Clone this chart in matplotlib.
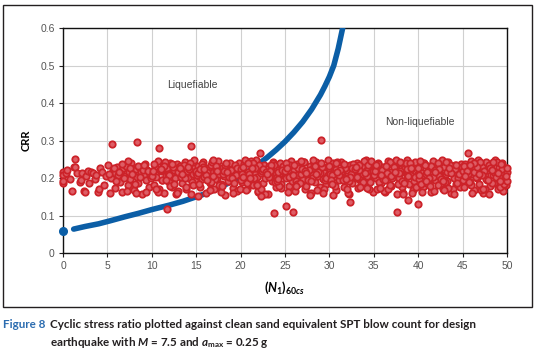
import matplotlib
matplotlib.use("Agg")
import matplotlib.pyplot as plt

cap_font = "Lato"

plt.rcParams["font.family"] = ["Liberation Sans", "DejaVu Sans"]
plt.rcParams["mathtext.fontset"] = "custom"
plt.rcParams["mathtext.rm"] = cap_font + ":bold"
plt.rcParams["mathtext.it"] = cap_font + ":italic:bold"
plt.rcParams["mathtext.bf"] = cap_font + ":bold"

# clean sand base curve
curve_n = [1.2, 2.5, 4.0, 5.3, 7.0, 8.5, 10.0, 12.0, 13.5, 15.0, 16.0, 17.0, 18.0,
           19.0, 20.0, 21.0, 22.0, 23.0, 24.0, 25.0, 26.0, 27.0, 28.0, 29.0, 29.5,
           30.0, 30.5, 31.0, 31.5]
curve_crr = [0.064, 0.071, 0.078, 0.086, 0.097, 0.106, 0.116, 0.128, 0.138, 0.150,
             0.158, 0.168, 0.179, 0.191, 0.205, 0.220, 0.237, 0.255, 0.275, 0.297,
             0.322, 0.350, 0.383, 0.422, 0.445, 0.470, 0.500, 0.545, 0.600]
start_n = [0]
start_crr = [0.06]

# red site points, one line of n per line of crr
red_n = [
    0, 0, 0, 0, 0.3, 0.5, 0.8, 1.0, 1.2, 1.3, 1.35, 1.6, 1.9, 2.0, 2.1, 2.4, 2.5, 2.6,
    2.8, 2.9, 3.1, 3.4, 3.6, 3.7, 3.9, 4.1, 4.2, 4.4, 4.6, 4.8,
    5.1, 5.3, 5.4, 5.6, 5.8, 5.9, 6.1, 6.2, 6.4, 6.5, 6.7, 6.8, 7.0, 7.1, 7.3, 7.4,
    7.6, 7.7, 7.9, 8.0, 8.2, 8.3, 8.5, 8.6, 8.8, 8.9, 9.1, 9.2, 9.4, 9.5, 9.7, 9.8,
    5.2, 5.7, 6.0, 6.3, 6.6, 6.9, 7.2, 7.5, 7.8, 8.1, 8.4, 8.7, 9.0, 9.3, 9.6, 9.9,
    5.55, 8.3, 7.3, 8.2, 9.1,
    10.1, 10.2, 10.4, 10.5, 10.7, 10.8, 11.0, 11.1, 11.3, 11.4, 11.6, 11.7, 11.9, 12.0,
    12.2, 12.3, 12.5, 12.6, 12.8, 12.9, 13.1, 13.2, 13.4, 13.5, 13.7, 13.8, 14.0, 14.1,
    14.3, 14.4, 14.6, 14.7, 14.9,
    10.0, 10.3, 10.6, 10.9, 11.2, 11.5, 11.8, 12.1, 12.4, 12.7, 13.0, 13.3, 13.6, 13.9,
    14.2, 14.5, 14.8,
    10.15, 10.75, 11.35, 11.95, 12.55, 13.15, 13.75, 14.35, 14.95, 10.45, 11.05, 11.65,
    12.25, 12.85, 13.45, 14.05, 14.65,
    10.8, 11.75, 14.4,
    15.1, 15.2, 15.4, 15.5, 15.7, 15.8, 16.0, 16.1, 16.3, 16.4, 16.6, 16.7, 16.9, 17.0,
    17.2, 17.3, 17.5, 17.6, 17.8, 17.9, 18.1, 18.2, 18.4, 18.5, 18.7, 18.8, 19.0, 19.1,
    19.3, 19.4, 19.6, 19.7, 19.9,
    15.0, 15.3, 15.6, 15.9, 16.2, 16.5, 16.8, 17.1, 17.4, 17.7, 18.0, 18.3, 18.6, 18.9,
    19.2, 19.5, 19.8,
    15.15, 15.75, 16.35, 16.95, 17.55, 18.15, 18.75, 19.35, 19.95, 15.45, 16.05, 16.65,
    17.25, 17.85, 18.45, 19.05, 19.65,
    15.25, 16.25, 17.35, 18.35, 19.25, 15.85, 16.85, 17.95,
    20.1, 20.2, 20.4, 20.5, 20.7, 20.8, 21.0, 21.1, 21.3, 21.4, 21.6, 21.7, 21.9, 22.0,
    22.2, 22.3, 22.5, 22.6, 22.8, 22.9, 23.1, 23.2, 23.4, 23.5, 23.7, 23.8, 24.0, 24.1,
    24.3, 24.4, 24.6, 24.7, 24.9,
    20.0, 20.3, 20.6, 20.9, 21.2, 21.5, 21.8, 22.1, 22.4, 22.7, 23.0, 23.3, 23.6, 23.9,
    24.2, 24.5, 24.8,
    20.15, 20.75, 21.35, 21.95, 22.55, 23.15, 23.75, 24.35, 24.95, 20.45, 21.05, 21.65,
    22.25, 22.85, 23.45, 24.05, 24.65,
    20.25, 21.25, 22.35, 23.35, 24.25, 20.85, 21.85, 22.95,
    25.1, 25.2, 25.4, 25.5, 25.7, 25.8, 26.0, 26.1, 26.3, 26.4, 26.6, 26.7, 26.9, 27.0,
    27.2, 27.3, 27.5, 27.6, 27.8, 27.9, 28.1, 28.2, 28.4, 28.5, 28.7, 28.8, 29.0, 29.1,
    29.3, 29.4, 29.6, 29.7, 29.9,
    25.0, 25.3, 25.6, 25.9, 26.2, 26.5, 26.8, 27.1, 27.4, 27.7, 28.0, 28.3, 28.6, 28.9,
    29.2, 29.5, 29.8,
    25.15, 25.75, 26.35, 26.95, 27.55, 28.15, 28.75, 29.35, 29.95, 25.45, 26.05, 26.65,
    27.25, 27.85, 28.45, 29.05, 29.65,
    25.25, 26.25, 27.35, 28.35, 29.25, 25.85, 26.85, 27.95,
    30.1, 30.2, 30.4, 30.5, 30.7, 30.8, 31.0, 31.1, 31.3, 31.4, 31.6, 31.7, 31.9, 32.0,
    32.2, 32.3, 32.5, 32.6, 32.8, 32.9, 33.1, 33.2, 33.4, 33.5, 33.7, 33.8, 34.0, 34.1,
    34.3, 34.4, 34.6, 34.7, 34.9,
    30.0, 30.3, 30.6, 30.9, 31.2, 31.5, 31.8, 32.1, 32.4, 32.7, 33.0, 33.3, 33.6, 33.9,
    34.2, 34.5, 34.8,
    30.15, 30.75, 31.35, 31.95, 32.55, 33.15, 33.75, 34.35, 34.95, 30.45, 31.05, 31.65,
    32.25, 32.85, 33.45, 34.05, 34.65,
    30.25, 31.25, 32.35, 33.35, 34.25, 30.85, 31.85, 32.95,
    35.1, 35.2, 35.4, 35.5, 35.7, 35.8, 36.0, 36.1, 36.3, 36.4, 36.6, 36.7, 36.9, 37.0,
    37.2, 37.3, 37.5, 37.6, 37.8, 37.9, 38.1, 38.2, 38.4, 38.5, 38.7, 38.8, 39.0, 39.1,
    39.3, 39.4, 39.6, 39.7, 39.9,
    35.0, 35.3, 35.6, 35.9, 36.2, 36.5, 36.8, 37.1, 37.4, 37.7, 38.0, 38.3, 38.6, 38.9,
    39.2, 39.5, 39.8,
    35.15, 35.75, 36.35, 36.95, 37.55, 38.15, 38.75, 39.35, 39.95, 35.45, 36.05, 36.65,
    37.25, 37.85, 38.45, 39.05, 39.65,
    35.25, 36.25, 37.35, 38.35, 39.25, 35.85, 36.85, 37.95,
    40.1, 40.2, 40.4, 40.5, 40.7, 40.8, 41.0, 41.1, 41.3, 41.4, 41.6, 41.7, 41.9, 42.0,
    42.2, 42.3, 42.5, 42.6, 42.8, 42.9, 43.1, 43.2, 43.4, 43.5, 43.7, 43.8, 44.0, 44.1,
    44.3, 44.4, 44.6, 44.7, 44.9,
    40.0, 40.3, 40.6, 40.9, 41.2, 41.5, 41.8, 42.1, 42.4, 42.7, 43.0, 43.3, 43.6, 43.9,
    44.2, 44.5, 44.8,
    40.15, 40.75, 41.35, 41.95, 42.55, 43.15, 43.75, 44.35, 44.95, 40.45, 41.05, 41.65,
    42.25, 42.85, 43.45, 44.05, 44.65,
    40.25, 41.25, 42.35, 43.35, 44.25, 40.85, 41.85, 42.95,
    45.1, 45.2, 45.4, 45.5, 45.7, 45.8, 46.0, 46.1, 46.3, 46.4, 46.6, 46.7, 46.9, 47.0,
    47.2, 47.3, 47.5, 47.6, 47.8, 47.9, 48.1, 48.2, 48.4, 48.5, 48.7, 48.8, 49.0, 49.1,
    49.3, 49.4, 49.6, 49.7, 49.9,
    45.0, 45.3, 45.6, 45.9, 46.2, 46.5, 46.8, 47.1, 47.4, 47.7, 48.0, 48.3, 48.6, 48.9,
    49.2, 49.5, 49.8,
    45.15, 45.75, 46.35, 46.95, 47.55, 48.15, 48.75, 49.35, 49.95, 45.45, 46.05, 46.65,
    47.25, 47.85, 48.45, 49.05, 49.65,
    45.25, 46.25, 47.35, 48.35, 49.25, 45.85, 46.85, 47.95,
    50.0, 50.0, 50.0, 49.9,
    22.2, 23.8, 25.1, 25.9, 29.1, 32.3, 37.6, 38.9, 40.0, 45.6,
]
red_crr = [
    0.216, 0.207, 0.186, 0.192, 0.213, 0.222, 0.197, 0.165, 0.230, 0.251, 0.229, 0.213,
    0.190, 0.196, 0.214, 0.165, 0.163, 0.205, 0.218, 0.188, 0.217, 0.214, 0.197, 0.208,
    0.164, 0.172, 0.227, 0.215, 0.181, 0.206,
    0.236, 0.160, 0.201, 0.222, 0.214, 0.173, 0.229, 0.208, 0.190, 0.219, 0.162, 0.226,
    0.205, 0.233, 0.181, 0.215, 0.198, 0.241, 0.211, 0.169, 0.224, 0.203, 0.187, 0.230,
    0.216, 0.158, 0.209, 0.238, 0.195, 0.221, 0.176, 0.212,
    0.210, 0.227, 0.193, 0.217, 0.238, 0.200, 0.166, 0.228, 0.212, 0.185, 0.231, 0.204,
    0.222, 0.163, 0.218, 0.199,
    0.291, 0.297, 0.245, 0.160, 0.234,
    0.214, 0.182, 0.229, 0.203, 0.246, 0.171, 0.218, 0.195, 0.235, 0.160, 0.208, 0.226,
    0.189, 0.241, 0.213, 0.177, 0.222, 0.199, 0.238, 0.165, 0.216, 0.231, 0.186, 0.207,
    0.244, 0.172, 0.219, 0.201, 0.236, 0.158, 0.211, 0.227, 0.193,
    0.205, 0.238, 0.168, 0.221, 0.196, 0.243, 0.212, 0.180, 0.229, 0.157, 0.217, 0.202,
    0.234, 0.175, 0.224, 0.190, 0.248,
    0.219, 0.163, 0.233, 0.207, 0.185, 0.226, 0.199, 0.240, 0.214, 0.171, 0.223, 0.195,
    0.237, 0.161, 0.210, 0.229, 0.182,
    0.281, 0.117, 0.286,
    0.208, 0.231, 0.176, 0.219, 0.197, 0.242, 0.213, 0.161, 0.226, 0.204, 0.188, 0.235,
    0.217, 0.170, 0.222, 0.199, 0.245, 0.211, 0.183, 0.228, 0.206, 0.156, 0.233, 0.215,
    0.192, 0.239, 0.201, 0.174, 0.224, 0.212, 0.166, 0.230, 0.207,
    0.220, 0.185, 0.237, 0.203, 0.215, 0.168, 0.244, 0.198, 0.226, 0.179, 0.210, 0.234,
    0.192, 0.221, 0.160, 0.207, 0.240,
    0.213, 0.229, 0.195, 0.249, 0.182, 0.218, 0.204, 0.236, 0.171, 0.225, 0.209, 0.190,
    0.232, 0.163, 0.216, 0.200, 0.227,
    0.152, 0.196, 0.219, 0.241, 0.186, 0.224, 0.205, 0.178,
    0.224, 0.190, 0.237, 0.205, 0.171, 0.216, 0.243, 0.198, 0.229, 0.182, 0.211, 0.247,
    0.203, 0.163, 0.226, 0.214, 0.188, 0.235, 0.200, 0.219, 0.157, 0.231, 0.208, 0.192,
    0.244, 0.216, 0.177, 0.222, 0.206, 0.239, 0.185, 0.213, 0.228,
    0.196, 0.230, 0.168, 0.212, 0.245, 0.201, 0.183, 0.236, 0.219, 0.158, 0.225, 0.207,
    0.240, 0.190, 0.217, 0.174, 0.232,
    0.210, 0.187, 0.241, 0.165, 0.223, 0.203, 0.236, 0.180, 0.214, 0.248, 0.199, 0.228,
    0.170, 0.215, 0.234, 0.193, 0.221,
    0.204, 0.227, 0.152, 0.218, 0.197, 0.239, 0.181, 0.212,
    0.201, 0.233, 0.178, 0.215, 0.246, 0.192, 0.222, 0.165, 0.209, 0.238, 0.186, 0.227,
    0.213, 0.197, 0.242, 0.172, 0.219, 0.204, 0.231, 0.160, 0.225, 0.211, 0.189, 0.244,
    0.206, 0.220, 0.175, 0.234, 0.198, 0.217, 0.184, 0.229, 0.247,
    0.218, 0.163, 0.236, 0.205, 0.191, 0.228, 0.212, 0.243, 0.179, 0.221, 0.200, 0.237,
    0.168, 0.214, 0.230, 0.194, 0.208,
    0.239, 0.207, 0.183, 0.223, 0.196, 0.248, 0.215, 0.170, 0.226, 0.202, 0.235, 0.188,
    0.219, 0.156, 0.210, 0.241, 0.199,
    0.226, 0.180, 0.213, 0.232, 0.161, 0.207, 0.245, 0.192,
    0.212, 0.186, 0.239, 0.203, 0.167, 0.225, 0.217, 0.194, 0.244, 0.208, 0.176, 0.230,
    0.199, 0.221, 0.158, 0.236, 0.214, 0.188, 0.227, 0.205, 0.241, 0.173, 0.219, 0.196,
    0.233, 0.210, 0.182, 0.248, 0.202, 0.224, 0.190, 0.215, 0.164,
    0.231, 0.207, 0.180, 0.243, 0.218, 0.195, 0.226, 0.161, 0.211, 0.237, 0.199, 0.222,
    0.185, 0.246, 0.206, 0.172, 0.229,
    0.196, 0.240, 0.215, 0.170, 0.228, 0.204, 0.189, 0.234, 0.219, 0.155, 0.209, 0.238,
    0.193, 0.224, 0.177, 0.213, 0.245,
    0.183, 0.221, 0.203, 0.236, 0.174, 0.216, 0.198, 0.230,
    0.226, 0.199, 0.170, 0.241, 0.213, 0.187, 0.230, 0.205, 0.162, 0.222, 0.246, 0.194,
    0.217, 0.180, 0.235, 0.209, 0.228, 0.158, 0.201, 0.239, 0.215, 0.176, 0.224, 0.192,
    0.247, 0.206, 0.185, 0.233, 0.211, 0.169, 0.220, 0.243, 0.197,
    0.209, 0.236, 0.190, 0.222, 0.165, 0.214, 0.244, 0.200, 0.231, 0.183, 0.218, 0.161,
    0.239, 0.205, 0.225, 0.193, 0.176,
    0.218, 0.173, 0.233, 0.206, 0.249, 0.191, 0.225, 0.160, 0.212, 0.237, 0.198, 0.171,
    0.229, 0.214, 0.186, 0.241, 0.203,
    0.235, 0.195, 0.216, 0.157, 0.228, 0.208, 0.181, 0.242,
    0.198, 0.228, 0.214, 0.175, 0.240, 0.206, 0.188, 0.233, 0.220, 0.163, 0.210, 0.245,
    0.195, 0.226, 0.181, 0.216, 0.237, 0.203, 0.170, 0.229, 0.211, 0.192, 0.243, 0.218,
    0.160, 0.224, 0.200, 0.236, 0.185, 0.213, 0.231, 0.177, 0.219,
    0.227, 0.184, 0.241, 0.211, 0.196, 0.232, 0.166, 0.220, 0.205, 0.247, 0.189, 0.215,
    0.234, 0.172, 0.223, 0.201, 0.238,
    0.207, 0.235, 0.179, 0.221, 0.198, 0.244, 0.213, 0.186, 0.230, 0.164, 0.217, 0.203,
    0.239, 0.192, 0.226, 0.157, 0.211,
    0.245, 0.200, 0.223, 0.174, 0.236, 0.193, 0.215, 0.168,
    0.219, 0.176, 0.236, 0.203, 0.228, 0.190, 0.245, 0.211, 0.167, 0.225, 0.199, 0.238,
    0.184, 0.214, 0.231, 0.161, 0.207, 0.242, 0.196, 0.222, 0.178, 0.233, 0.209, 0.188,
    0.247, 0.216, 0.171, 0.229, 0.201, 0.240, 0.165, 0.213, 0.226,
    0.194, 0.238, 0.210, 0.181, 0.229, 0.204, 0.247, 0.169, 0.220, 0.197, 0.235, 0.186,
    0.216, 0.243, 0.176, 0.224, 0.200,
    0.233, 0.189, 0.215, 0.244, 0.172, 0.226, 0.202, 0.237, 0.181, 0.219, 0.160, 0.230,
    0.208, 0.194, 0.242, 0.213, 0.185,
    0.206, 0.239, 0.171, 0.222, 0.193, 0.234, 0.212, 0.157,
    0.215, 0.228, 0.192, 0.206,
    0.268, 0.107, 0.126, 0.109, 0.301, 0.137, 0.109, 0.142, 0.132, 0.268,
]

x_ticks = [0, 5, 10, 15, 20, 25, 30, 35, 40, 45, 50]
y_ticks = [0, 0.1, 0.2, 0.3, 0.4, 0.5, 0.6]
y_ticklabels = ["0", "0.1", "0.2", "0.3", "0.4", "0.5", "0.6"]

blue = "#0b5ea6"
red = "#cc2229"

fig = plt.figure(figsize=(5.48, 3.59), dpi=100)

# outer frame round the chart
fig.patches.append(plt.Rectangle((0.0055, 0.145), 0.9655, 0.841, transform=fig.transFigure,
                                 fill=False, edgecolor="#231f20", linewidth=1.0))

ax = fig.add_axes([0.115, 0.295, 0.810, 0.627])
ax.plot(curve_n, curve_crr, color=blue, linewidth=4.0, solid_capstyle="round",
        solid_joinstyle="round", zorder=3)
ax.plot(start_n, start_crr, "o", color=blue, markersize=5.5, clip_on=False, zorder=3)
ax.plot(red_n, red_crr, "o", linestyle="none", markersize=4.6, markeredgewidth=1.3,
        markeredgecolor=red, markerfacecolor="#de5d65", clip_on=False, zorder=4)

ax.set_xlim(0, 50)
ax.set_ylim(0, 0.6)
ax.set_xticks(x_ticks)
ax.set_yticks(y_ticks)
ax.set_yticklabels(y_ticklabels)
ax.grid(True, color="#d0d0d0", linewidth=0.8)
ax.set_axisbelow(True)
ax.tick_params(labelsize=7.5, labelcolor="#555555", length=3, width=0.8, color="#231f20", pad=3)
for s in ax.spines.values():
    s.set_color("#111111")
    s.set_linewidth(1.0)

ax.set_ylabel("CRR", fontsize=8, fontweight="bold", family=cap_font, labelpad=6)
ax.set_xlabel(r"$(\mathit{N}_{1})_{60cs}$", fontsize=9, labelpad=6)

ax.text(14.6, 0.448, "Liquefiable", fontsize=7.5, color="#444444", ha="center", va="center")
ax.text(40.2, 0.349, "Non-liquefiable", fontsize=7.5, color="#444444", ha="center", va="center")

# caption, sized so that line one ends where it does in the print
fig_no = fig.text(3 / 548, 1 - 324 / 359, "Figure 8", family=cap_font, fontweight="bold",
                  fontsize=9, color="#2b6cb0", va="center")
line1 = fig.text(50 / 548, 1 - 324 / 359,
                 "Cyclic stress ratio plotted against clean sand equivalent SPT blow count for design",
                 family=cap_font, fontweight="bold", fontsize=9, color="#231f20", va="center")
line2 = fig.text(50 / 548, 1 - 343 / 359,
                 r"earthquake with $\mathit{M}$ = 7.5 and $\mathit{a}_{\mathrm{max}}$ = 0.25 g",
                 family=cap_font, fontweight="bold", fontsize=9, color="#231f20", va="center")
r = fig.canvas.get_renderer()
w = line1.get_window_extent(renderer=r).width
size = min(9.5, 9 * 423 / w)
for t in (fig_no, line1, line2):
    t.set_fontsize(size)

fig.savefig("out.png", dpi=100)
